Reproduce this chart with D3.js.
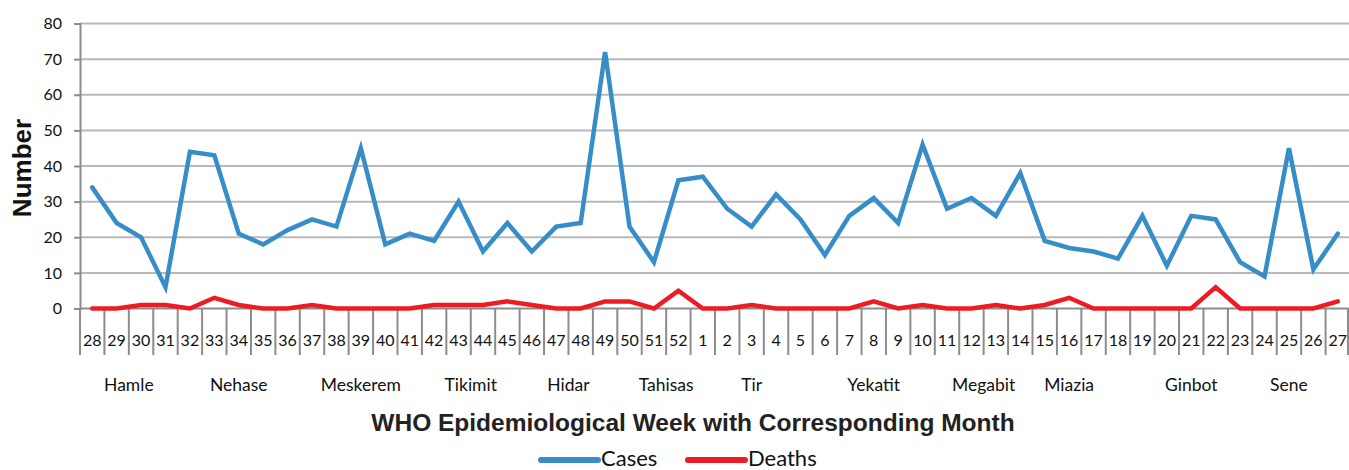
<!DOCTYPE html>
<html>
<head>
<meta charset="utf-8">
<script src="https://cdn.jsdelivr.net/npm/d3@7"></script>
<style>
  html, body { margin: 0; padding: 0; background: #fff; }
  svg { display: block; }
</style>
</head>
<body>
<svg id="chart" width="1349" height="470"></svg>
<script>
// WHO epidemiological weeks (week 28 through week 27 of the following year)
const weeks = ["28","29","30","31","32","33","34","35","36","37","38","39","40","41","42","43","44","45","46","47","48","49","50","51","52",
               "1","2","3","4","5","6","7","8","9","10","11","12","13","14","15","16","17","18","19","20","21","22","23","24","25","26","27"];

const cases  = [34,24,20,6,44,43,21,18,22,25,23,45,18,21,19,30,16,24,16,23,24,72,23,13,36,
                37,28,23,32,25,15,26,31,24,46,28,31,26,38,19,17,16,14,26,12,26,25,13,9,45,11,21];

const deaths = [0,0,1,1,0,3,1,0,0,1,0,0,0,0,1,1,1,2,1,0,0,2,2,0,5,
                0,0,1,0,0,0,0,2,0,1,0,0,1,0,1,3,0,0,0,0,0,6,0,0,0,0,2];

// Ethiopian month names and the week span each label sits under
const months      = ["Hamle","Nehase","Meskerem","Tikimit","Hidar","Tahisas","Tir","Yekatit","Megabit","Miazia","Ginbot","Sene"];
const monthFrom   = ["29","33","38","43","47","51","3","8","12","16","21","25"];
const monthTo     = ["30","35","40","44","48","52","3","8","13","16","21","25"];

const yTicks = [0,10,20,30,40,50,60,70,80];

const seriesNames  = ["Cases","Deaths"];
const seriesColors = ["#378dc8","#ed1c24"];

const svg = d3.select("#chart");
const W = 1349;
const plotLeft = 80, plotRight = 1350, plotTop = 23.5, plotBottom = 308.5;

const x = d3.scaleBand().domain(weeks).range([plotLeft, plotRight]).paddingInner(0).paddingOuter(0);
const y = d3.scaleLinear().domain([0, 80]).range([plotBottom, plotTop]);
const cx = w => x(w) + x.bandwidth() / 2;

// horizontal gridlines
svg.append("g")
  .selectAll("line")
  .data(yTicks.filter(d => d > 0))
  .join("line")
  .attr("x1", plotLeft).attr("x2", W)
  .attr("y1", d => y(d)).attr("y2", d => y(d))
  .attr("stroke", "#b9b9bd").attr("stroke-width", 2);

// y axis
const yAxis = svg.append("g")
  .attr("transform", `translate(${plotLeft},0)`)
  .call(d3.axisLeft(y).tickValues(yTicks).tickSize(6).tickPadding(12));
yAxis.select(".domain").attr("stroke", "#8c8c8c").attr("stroke-width", 2);
yAxis.selectAll(".tick line").attr("stroke", "#8c8c8c").attr("stroke-width", 2);
yAxis.selectAll(".tick text")
  .attr("font-family", "Lato, 'Open Sans', sans-serif")
  .attr("font-size", 16).attr("fill", "#111");

// x axis baseline with week separators
svg.append("line")
  .attr("x1", plotLeft).attr("x2", W).attr("y1", plotBottom).attr("y2", plotBottom)
  .attr("stroke", "#8c8c8c").attr("stroke-width", 2);

const bounds = weeks.map(w => x(w)).concat([plotRight]);
svg.append("g")
  .selectAll("line")
  .data(bounds)
  .join("line")
  .attr("x1", d => Math.min(d, W - 1)).attr("x2", d => Math.min(d, W - 1))
  .attr("y1", plotBottom).attr("y2", 355)
  .attr("stroke", "#8c8c8c").attr("stroke-width", 2);

svg.append("g")
  .selectAll("text")
  .data(weeks)
  .join("text")
  .attr("x", d => cx(d))
  .attr("y", 346)
  .attr("text-anchor", "middle")
  .attr("font-family", "Lato, 'Open Sans', sans-serif")
  .attr("font-size", 16)
  .attr("fill", "#111")
  .text(d => d);

// month labels, centred under their weeks
svg.append("g")
  .selectAll("text")
  .data(months)
  .join("text")
  .attr("x", (d, i) => (cx(monthFrom[i]) + cx(monthTo[i])) / 2)
  .attr("y", 391)
  .attr("text-anchor", "middle")
  .attr("font-family", "Lato, 'Open Sans', sans-serif")
  .attr("font-size", 17.5)
  .attr("fill", "#111")
  .text(d => d);

// series lines
const line = d3.line().x((d, i) => cx(weeks[i])).y(d => y(d));
[cases, deaths].forEach((vals, k) => {
  svg.append("path")
    .datum(vals)
    .attr("d", line)
    .attr("fill", "none")
    .attr("stroke", seriesColors[k])
    .attr("stroke-width", 4.5)
    .attr("stroke-linejoin", "miter")
    .attr("stroke-linecap", "round");
});

// axis titles
svg.append("text")
  .attr("transform", `translate(31,${(plotTop + plotBottom) / 2 + 2}) rotate(-90)`)
  .attr("text-anchor", "middle")
  .attr("font-family", "'Liberation Sans', Arial, sans-serif")
  .attr("font-weight", "bold")
  .attr("font-size", 26)
  .attr("fill", "#111")
  .text("Number");

svg.append("text")
  .attr("x", 693).attr("y", 431)
  .attr("text-anchor", "middle")
  .attr("font-family", "'Liberation Sans', Arial, sans-serif")
  .attr("font-weight", "bold")
  .attr("font-size", 24.5)
  .attr("fill", "#222")
  .text("WHO Epidemiological Week with Corresponding Month");

// legend
const legendX = [541, 688];
const legend = svg.append("g");
seriesNames.forEach((name, k) => {
  legend.append("line")
    .attr("x1", legendX[k]).attr("x2", legendX[k] + 57)
    .attr("y1", 460).attr("y2", 460)
    .attr("stroke", seriesColors[k]).attr("stroke-width", 6)
    .attr("stroke-linecap", "round");
  legend.append("text")
    .attr("x", legendX[k] + 60).attr("y", 466)
    .attr("font-family", "Lato, 'Open Sans', sans-serif")
    .attr("font-size", 22)
    .attr("fill", "#111")
    .text(name);
});
</script>
</body>
</html>
